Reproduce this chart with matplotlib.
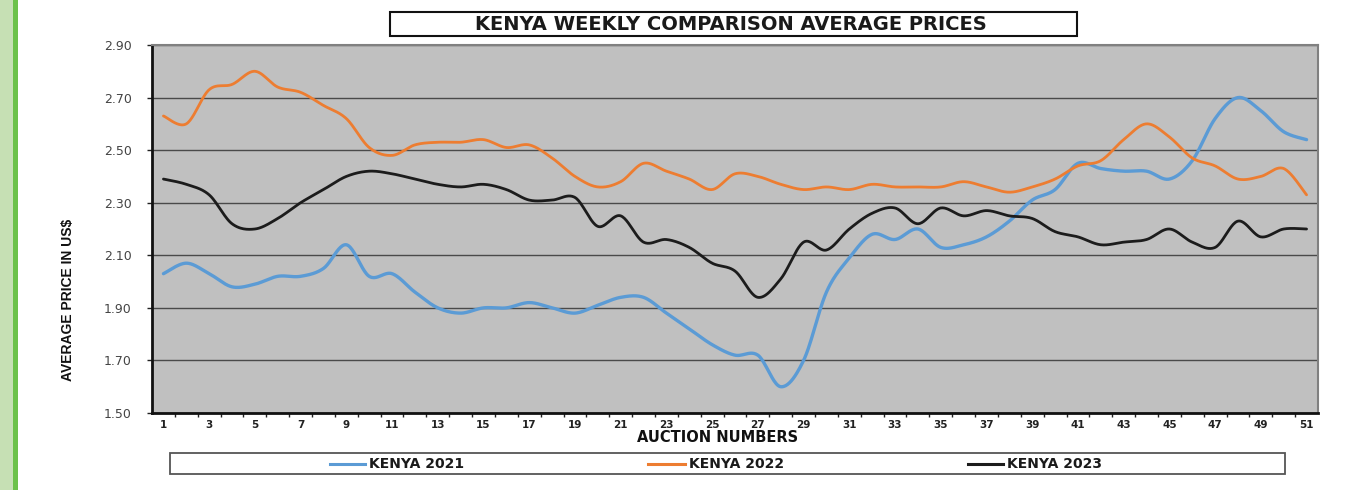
import numpy as np
import matplotlib
matplotlib.use("Agg")
import matplotlib.pyplot as plt
from matplotlib.patches import Rectangle
from matplotlib.lines import Line2D

plt.rcParams['font.family'] = ['DejaVu Sans']

auctions = list(range(1, 52))
kenya_2021 = [2.03, 2.07, 2.03, 1.98, 1.99, 2.02, 2.02, 2.05, 2.14, 2.02,
              2.03, 1.96, 1.90, 1.88, 1.90, 1.90, 1.92, 1.90, 1.88, 1.91,
              1.94, 1.94, 1.88, 1.82, 1.76, 1.72, 1.72, 1.60, 1.70, 1.96,
              2.09, 2.18, 2.16, 2.20, 2.13, 2.14, 2.17, 2.23, 2.31, 2.35,
              2.45, 2.43, 2.42, 2.42, 2.39, 2.46, 2.62, 2.70, 2.65, 2.57,
              2.54]
kenya_2022 = [2.63, 2.60, 2.73, 2.75, 2.80, 2.74, 2.72, 2.67, 2.62, 2.51,
              2.48, 2.52, 2.53, 2.53, 2.54, 2.51, 2.52, 2.47, 2.40, 2.36,
              2.38, 2.45, 2.42, 2.39, 2.35, 2.41, 2.40, 2.37, 2.35, 2.36,
              2.35, 2.37, 2.36, 2.36, 2.36, 2.38, 2.36, 2.34, 2.36, 2.39,
              2.44, 2.46, 2.54, 2.60, 2.55, 2.47, 2.44, 2.39, 2.40, 2.43,
              2.33]
kenya_2023 = [2.39, 2.37, 2.33, 2.22, 2.20, 2.24, 2.30, 2.35, 2.40, 2.42,
              2.41, 2.39, 2.37, 2.36, 2.37, 2.35, 2.31, 2.31, 2.32, 2.21,
              2.25, 2.15, 2.16, 2.13, 2.07, 2.04, 1.94, 2.01, 2.15, 2.12,
              2.20, 2.26, 2.28, 2.22, 2.28, 2.25, 2.27, 2.25, 2.24, 2.19,
              2.17, 2.14, 2.15, 2.16, 2.20, 2.15, 2.13, 2.23, 2.17, 2.20,
              2.20]
series_labels = ["KENYA 2021", "KENYA 2022", "KENYA 2023"]
series_colors = ["#5b9bd5", "#ed7d31", "#1c1c1c"]
series_widths = [2.4, 2.0, 2.0]
y_ticks = [1.50, 1.70, 1.90, 2.10, 2.30, 2.50, 2.70, 2.90]

title = "KENYA WEEKLY COMPARISON AVERAGE PRICES"
x_title = "AUCTION NUMBERS"
y_title = "AVERAGE PRICE IN US$"


def smooth(xs, ys, n=24):
    """Catmull-Rom spline through the points (Excel-like smoothed line)."""
    xs = np.asarray(xs, float)
    ys = np.asarray(ys, float)
    px = np.concatenate([[xs[0]], xs, [xs[-1]]])
    py = np.concatenate([[ys[0]], ys, [ys[-1]]])
    out_x, out_y = [], []
    t = np.linspace(0, 1, n, endpoint=False)
    for i in range(1, len(px) - 2):
        for arr, out in ((px, out_x), (py, out_y)):
            p0, p1, p2, p3 = arr[i - 1], arr[i], arr[i + 1], arr[i + 2]
            v = 0.5 * ((2 * p1) + (-p0 + p2) * t + (2 * p0 - 5 * p1 + 4 * p2 - p3) * t ** 2
                       + (-p0 + 3 * p1 - 3 * p2 + p3) * t ** 3)
            out.extend(v)
    out_x.append(xs[-1])
    out_y.append(ys[-1])
    return np.array(out_x), np.array(out_y)


W, H = 1357, 490
fig = plt.figure(figsize=(W / 100, H / 100), dpi=100)
fig.patch.set_facecolor("white")
renderer = fig.canvas.get_renderer()


def fit_width(txt, target_px, max_size=None):
    bb = txt.get_window_extent(renderer)
    size = txt.get_fontsize() * target_px / bb.width
    if max_size is not None:
        size = min(size, max_size)
    txt.set_fontsize(size)
    return txt


# left green stripe
fig.patches.append(Rectangle((0, 0), 13.5 / W, 1, transform=fig.transFigure,
                             facecolor="#c6e0b4", edgecolor="none", zorder=0))
fig.patches.append(Rectangle((13.5 / W, 0), 4.5 / W, 1, transform=fig.transFigure,
                             facecolor="#6cc24a", edgecolor="none", zorder=0))

ax = fig.add_axes([152 / W, 1 - 413 / H, (1318 - 152) / W, (413 - 45) / H])
ax.set_facecolor("#c0c0c0")

for data, col, lw in zip([kenya_2021, kenya_2022, kenya_2023], series_colors, series_widths):
    sx, sy = smooth(auctions, data)
    ax.plot(sx, sy, color=col, lw=lw, solid_capstyle="round", zorder=3)

ax.set_xlim(0.5, 51.5)
ax.set_ylim(1.50, 2.90)
ax.set_yticks(y_ticks)
ax.set_yticklabels([f"{v:.2f}" for v in y_ticks], fontsize=9, color="#444444")
ax.yaxis.grid(True, color="#4a4a4a", lw=1.0, zorder=1)
ax.set_axisbelow(True)

odd = [a for a in auctions if a % 2 == 1]
ax.set_xticks(odd)
ax.set_xticklabels([str(a) for a in odd], fontsize=7.5, fontweight="bold", color="#222222")
ax.set_xticks(np.arange(1.5, 51.5, 1.0), minor=True)
ax.tick_params(axis="x", which="major", length=0, pad=5)
ax.tick_params(axis="x", which="minor", length=3, width=1, color="#222222", direction="out")
ax.tick_params(axis="y", length=3.6, width=1, color="#222222", pad=11)

for s in ["left", "bottom"]:
    ax.spines[s].set_color("#111111")
    ax.spines[s].set_linewidth(2)
for s in ["top", "right"]:
    ax.spines[s].set_color("#808080")
    ax.spines[s].set_linewidth(1.5)

# axis titles
xt = fig.text(718 / W, 1 - 438 / H, x_title, ha="center", va="center",
              fontsize=9.5, fontweight="bold", color="#111111")
fit_width(xt, 176 * 0.93, max_size=10.5)
fig.text(68 / W, 1 - 300 / H, y_title, ha="center", va="center", rotation=90,
         fontsize=10, fontweight="bold", color="#111111",
         family=["Liberation Sans", "DejaVu Sans"])

# title box
fig.patches.append(Rectangle((390 / W, 1 - 36 / H), (1077 - 390) / W, 24 / H,
                             transform=fig.transFigure, facecolor="white",
                             edgecolor="#111111", lw=1.5, zorder=2))
tt = fig.text(731 / W, 1 - 24.5 / H, title, ha="center", va="center",
              fontsize=12.5, fontweight="bold", color="#1a1a1a", zorder=3)
fit_width(tt, 608 * 0.95, max_size=14)

# legend box
fig.patches.append(Rectangle((170 / W, 1 - 474 / H), (1285 - 170) / W, 21 / H,
                             transform=fig.transFigure, facecolor="white",
                             edgecolor="#555555", lw=1.3, zorder=2))
leg_line_x = [(330, 365), (648, 685), (968, 1003)]
for (x0, x1), lab, col in zip(leg_line_x, series_labels, series_colors):
    fig.lines.append(Line2D([x0 / W, x1 / W], [1 - 464 / H, 1 - 464 / H],
                            transform=fig.transFigure, color=col, lw=2.2, zorder=3))
    lt = fig.text((x1 + 4) / W, 1 - 464 / H, lab, ha="left", va="center",
                  fontsize=9.5, fontweight="bold", color="#1a1a1a", zorder=3)
    fit_width(lt, 102 * 0.93, max_size=10)

fig.savefig("out.png", dpi=100)
